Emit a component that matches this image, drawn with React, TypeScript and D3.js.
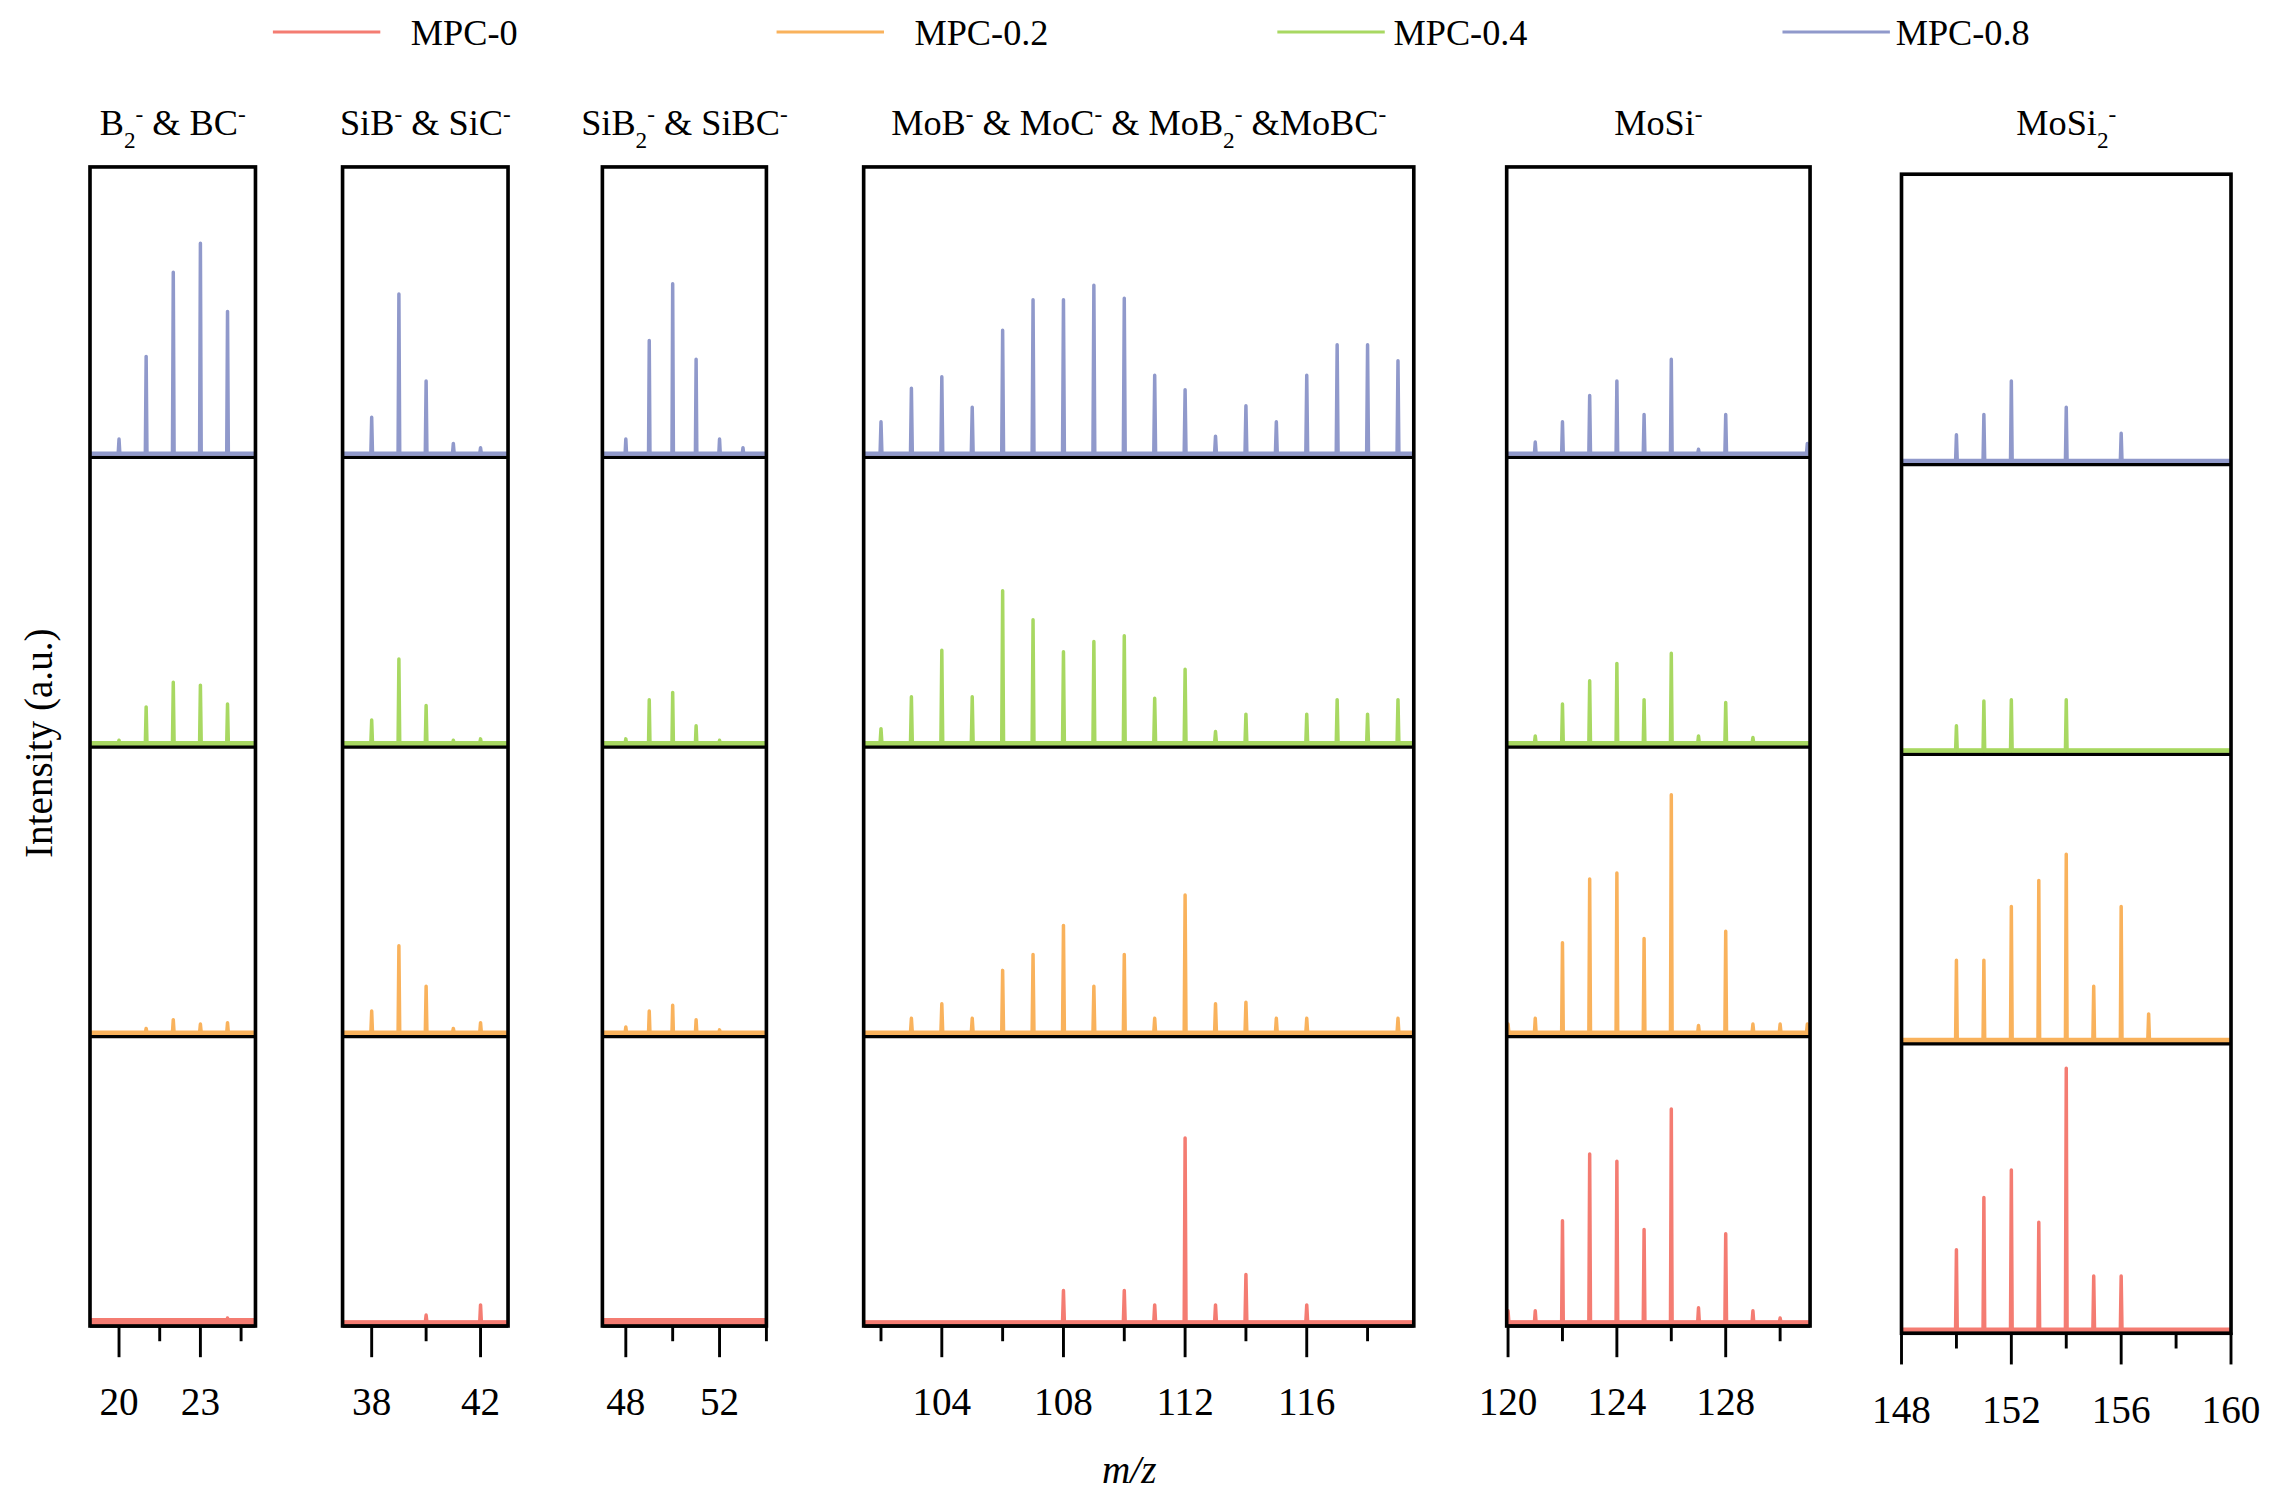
import React from "react";
import * as d3 from "d3";

const seriesNames = ["MPC-0", "MPC-0.2", "MPC-0.4", "MPC-0.8"];
const seriesColors = ["#F47C72", "#F9B25C", "#A8D862", "#9099CB"];

// [m/z, intensity (a.u.)]
const mpc0: number[][] = [
  [24, 3], [40, 5], [42, 12],
  [108, 22], [110, 22], [111, 12], [112, 127], [113, 12], [114, 33], [116, 12],
  [120, 8], [121, 8], [122, 70], [123, 116], [124, 111], [125, 64], [126, 147], [127, 10], [128, 61], [129, 8], [130, 3],
  [150, 55], [151, 91], [152, 110], [153, 74], [154, 180], [155, 37], [156, 37],
];
const mpc02: number[][] = [
  [21, 3], [22, 9], [23, 6], [24, 7],
  [38, 15], [39, 60], [40, 32], [41, 3], [42, 7],
  [48, 4], [49, 15], [50, 19], [51, 9], [52, 2],
  [103, 10], [104, 20], [105, 10], [106, 43], [107, 54], [108, 74], [109, 32], [110, 54], [111, 10], [112, 95], [113, 20], [114, 21], [115, 10], [116, 10], [119, 10],
  [120, 6], [121, 10], [122, 62], [123, 106], [124, 110], [125, 65], [126, 164], [127, 5], [128, 70], [129, 6], [130, 6], [131, 6],
  [150, 55], [151, 55], [152, 92], [153, 110], [154, 128], [155, 37], [156, 92], [157, 18],
];
const mpc04: number[][] = [
  [20, 2], [21, 25], [22, 42], [23, 40], [24, 27],
  [38, 16], [39, 58], [40, 26], [41, 2], [42, 3],
  [48, 3], [49, 30], [50, 35], [51, 12], [52, 2],
  [102, 10], [103, 32], [104, 64], [105, 32], [106, 105], [107, 85], [108, 63], [109, 70], [110, 74], [111, 31], [112, 51], [113, 8], [114, 20], [116, 20], [117, 30], [118, 20], [119, 30],
  [121, 5], [122, 27], [123, 43], [124, 55], [125, 30], [126, 62], [127, 5], [128, 28], [129, 4],
  [150, 17], [151, 34], [152, 35], [154, 35],
];
const mpc08: number[][] = [
  [20, 10], [21, 67], [22, 125], [23, 145], [24, 98],
  [38, 25], [39, 110], [40, 50], [41, 7], [42, 4],
  [48, 10], [49, 78], [50, 117], [51, 65], [52, 10], [53, 4], [54, 7],
  [102, 22], [103, 45], [104, 53], [105, 32], [106, 85], [107, 106], [108, 106], [109, 116], [110, 107], [111, 54], [112, 44], [113, 12], [114, 33], [115, 22], [116, 54], [117, 75], [118, 75], [119, 64],
  [121, 8], [122, 22], [123, 40], [124, 50], [125, 27], [126, 65], [127, 3], [128, 27], [131, 7],
  [150, 18], [151, 32], [152, 55], [154, 37], [156, 19],
];
const seriesData = [mpc0, mpc02, mpc04, mpc08];

const panelTitles = ["B2 & BC", "SiB & SiC", "SiB2 & SiBC", "MoB & MoC & MoB2 &MoBC", "MoSi", "MoSi2"];
const panelDomains = [[18.93, 25.03], [36.93, 43.01], [47.0, 54.0], [101.43, 119.52], [119.95, 131.1], [148, 160]];
const panelMajor = [[20, 23], [38, 42], [48, 52], [104, 108, 112, 116], [120, 124, 128], [148, 152, 156, 160]];
const panelMinor = [[21.5, 24.5], [40], [50, 54], [102, 106, 110, 114, 118], [122, 126, 130], [150, 154, 158]];

const panelX = [[62, 176], [236, 350], [415, 528], [595, 974], [1038, 1247], [1310, 1537]];
const panelYOff = [0, 0, 0, 0, 0, 5];

function Title({ i, x }: { i: number; x: number }) {
  const sup = (t: string) => <tspan baselineShift="super" fontSize={16}>{t}</tspan>;
  const sub = (t: string) => <tspan baselineShift="sub" fontSize={16}>{t}</tspan>;
  const content = [
    <>B{sub("2")}{sup("-")} &amp; BC{sup("-")}</>,
    <>SiB{sup("-")} &amp; SiC{sup("-")}</>,
    <>SiB{sub("2")}{sup("-")} &amp; SiBC{sup("-")}</>,
    <>MoB{sup("-")} &amp; MoC{sup("-")} &amp; MoB{sub("2")}{sup("-")} &amp;MoBC{sup("-")}</>,
    <>MoSi{sup("-")}</>,
    <>MoSi{sub("2")}{sup("-")}</>,
  ][i];
  return <text x={x} y={93} textAnchor="middle" fontSize={25}>{content}</text>;
}

export default function App() {
  const rowH = 199.5;
  const top = 115;
  const line = d3.line<number[]>().x(d => d[0]).y(d => d[1]);
  return (
    <svg width={2276} height={1506} viewBox="0 0 1568 1037.5"
      style={{ position: "absolute", left: 0, top: 0, background: "#fff" }}
      fontFamily="'Liberation Serif', 'Times New Roman', serif">
      {seriesNames.map((n, i) => {
        const lx = [188, 535, 880, 1228][i];
        const tx = [283, 630, 960, 1306][i];
        return (
          <g key={n}>
            <line x1={lx} x2={lx + 74} y1={22} y2={22} stroke={seriesColors[i]} strokeWidth={2} />
            <text x={tx} y={31} fontSize={25}>{n}</text>
          </g>
        );
      })}
      {panelTitles.map((t, p) => {
        const [x0, x1] = panelX[p];
        const off = panelYOff[p];
        const x = d3.scaleLinear().domain(panelDomains[p]).range([x0, x1]);
        const ptop = top + off;
        const bottom = ptop + 4 * rowH;
        return (
          <g key={t}>
            <Title i={p} x={(x0 + x1) / 2} />
            {[3, 2, 1, 0].map((s, r) => {
              const base = ptop + (r + 1) * rowH - 2;
              const y = d3.scaleLinear().domain([0, 200]).range([base, base - 200]);
              const pk = seriesData[s].filter(d => d[0] > panelDomains[p][0] && d[0] < panelDomains[p][1]);
              const pts: number[][] = [[x(panelDomains[p][0]), y(0)]];
              pk.forEach(d => {
                pts.push([x(d[0] - 0.03), y(0)], [x(d[0]), y(d[1])], [x(d[0] + 0.03), y(0)]);
              });
              pts.push([x(panelDomains[p][1]), y(0)]);
              return (
                <g key={s}>
                  <line x1={x0} x2={x1} y1={base + 2.5} y2={base + 2.5} stroke="#000" strokeWidth={2.5} />
                  <path d={line(pts) || ""} fill="none" stroke={seriesColors[s]} strokeWidth={2.4} strokeLinejoin="round" />
                  <line x1={x0} x2={x1} y1={base} y2={base} stroke={seriesColors[s]} strokeWidth={(s === 0 && (p === 0 || p === 2)) ? 6 : 3} />
                </g>
              );
            })}
            <rect x={x0} y={ptop} width={x1 - x0} height={bottom - ptop + 0.5} fill="none" stroke="#000" strokeWidth={2.5} />
            {panelMajor[p].map(v => (
              <g key={v}>
                <line x1={x(v)} x2={x(v)} y1={bottom} y2={bottom + 22} stroke="#000" strokeWidth={2} />
                <text x={x(v)} y={bottom + 62} textAnchor="middle" fontSize={27}>{v}</text>
              </g>
            ))}
            {panelMinor[p].map(v => (
              <line key={v} x1={x(v)} x2={x(v)} y1={bottom} y2={bottom + 11} stroke="#000" strokeWidth={2} />
            ))}
          </g>
        );
      })}
      <text transform="translate(36,512) rotate(-90)" textAnchor="middle" fontSize={27}>Intensity (a.u.)</text>
      <text x={778} y={1022} textAnchor="middle" fontSize={27} fontStyle="italic">m/z</text>
    </svg>
  );
}
